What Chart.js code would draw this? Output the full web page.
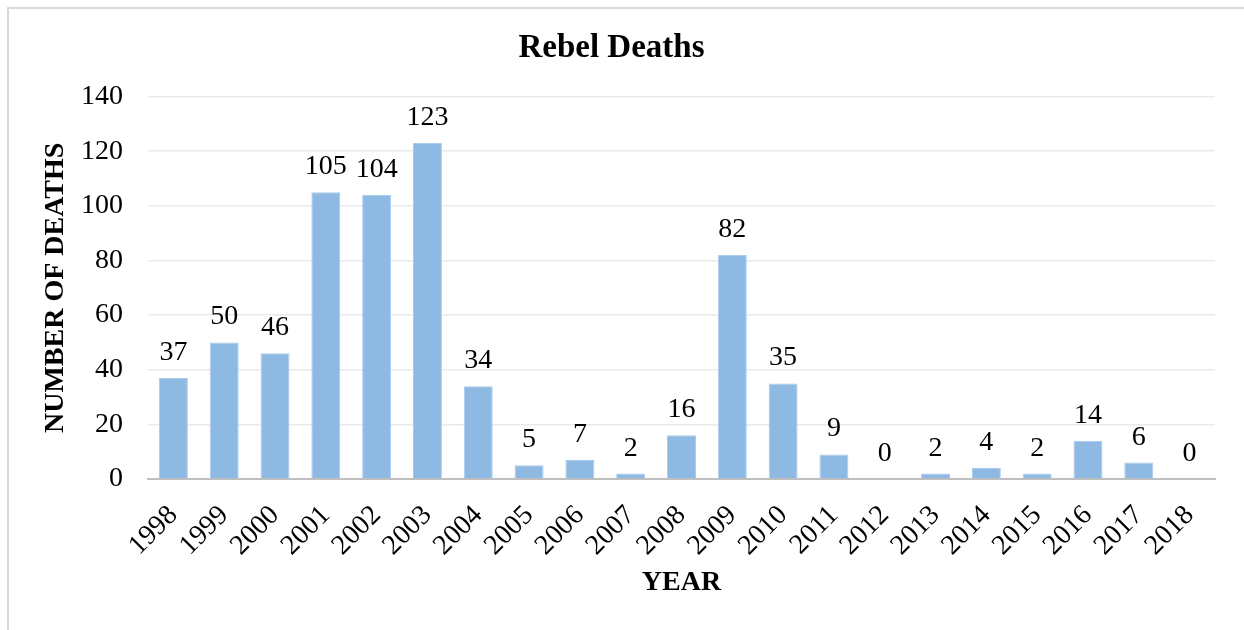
<!DOCTYPE html>
<html>
<head>
<meta charset="utf-8">
<script src="https://cdn.jsdelivr.net/npm/chart.js@4/dist/chart.umd.min.js"></script>
<style>
  html, body { margin: 0; padding: 0; background: #fff; overflow: hidden; }
  #frame {
    position: absolute; left: 7px; top: 7px;
    width: 1400px; height: 800px;
    border: 2px solid #d9d9d9; box-sizing: border-box;
  }
  #wrap { position: absolute; left: 0; top: 0; width: 1244px; height: 630px; }
</style>
</head>
<body>
<div id="frame"></div>
<div id="wrap"><canvas id="rebel-chart"></canvas></div>
<script>
const years = [
  "1998", "1999", "2000", "2001", "2002", "2003", "2004", "2005", "2006", "2007", "2008",
  "2009", "2010", "2011", "2012", "2013", "2014", "2015", "2016", "2017", "2018",
];
const deaths = [37, 50, 46, 105, 104, 123, 34, 5, 7, 2, 16, 82, 35, 9, 0, 2, 4, 2, 14, 6, 0];
const yTicks = [0, 20, 40, 60, 80, 100, 120, 140];

const serif = "'Liberation Serif', 'Times New Roman', serif";

// draws the number above each bar (no datalabels plugin offline)
const valueLabels = {
  id: "valueLabels",
  afterDatasetsDraw(chart) {
    const ctx = chart.ctx;
    const meta = chart.getDatasetMeta(0);
    ctx.save();
    ctx.font = "28px " + serif;
    ctx.fillStyle = "#000";
    ctx.textAlign = "center";
    ctx.textBaseline = "alphabetic";
    meta.data.forEach((bar, i) => {
      ctx.fillText(String(deaths[i]), bar.x, bar.y - 18);
    });
    ctx.restore();
  },
};

const ctx = document.getElementById("rebel-chart").getContext("2d");
const chart = new Chart(ctx, {
  type: "bar",
  data: {
    labels: years,
    datasets: [
      {
        data: deaths,
        backgroundColor: "#8db9e2",
        borderColor: "#a9cbeb",
        borderWidth: 1,
        barPercentage: 0.57,
        categoryPercentage: 1,
      },
    ],
  },
  plugins: [valueLabels],
  options: {
    responsive: true,
    maintainAspectRatio: false,
    animation: false,
    layout: {
      padding: { left: 8, right: 29, top: 8, bottom: 26 },
    },
    plugins: {
      legend: { display: false },
      tooltip: { enabled: false },
      title: {
        display: true,
        text: "Rebel Deaths",
        color: "#000",
        font: { family: serif, size: 33, weight: "bold" },
        padding: { top: 21, bottom: 28 },
      },
    },
    scales: {
      x: {
        afterFit(scale) {
          scale.height = 630 - 26 - 479;
        },
        grid: { display: false, drawTicks: false },
        border: { display: true, color: "#bfbfbf", width: 2 },
        ticks: {
          color: "#000",
          font: { family: serif, size: 28 },
          autoSkip: false,
          minRotation: 45,
          maxRotation: 45,
          padding: 20,
        },
        title: {
          display: true,
          text: "YEAR",
          color: "#000",
          font: { family: serif, size: 28, weight: "bold" },
          padding: { top: 0, bottom: 4 },
        },
      },
      y: {
        min: 0,
        max: 140,
        afterBuildTicks(scale) {
          scale.ticks = yTicks.map((v) => ({ value: v }));
        },
        afterFit(scale) {
          scale.width = 140;
        },
        grid: { color: "#eaeaea", lineWidth: 1.5, drawTicks: false },
        border: { display: false },
        ticks: {
          color: "#000",
          font: { family: serif, size: 28 },
          padding: 25,
        },
        title: {
          display: true,
          text: "NUMBER OF DEATHS",
          color: "#000",
          font: { family: serif, size: 28, weight: "bold" },
          padding: { top: 31, bottom: 0 },
        },
      },
    },
  },
});
</script>
</body>
</html>
